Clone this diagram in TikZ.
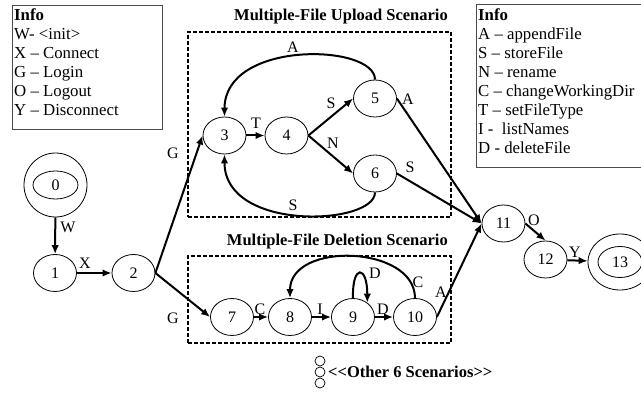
\documentclass[tikz,border=0pt]{standalone}
\usepackage{fontspec}
\setmainfont{Liberation Serif}
\usetikzlibrary{shapes.geometric,arrows.meta}
\begin{document}
\begin{tikzpicture}[x=1pt,y=-1pt,
  state/.style={ellipse,draw,line width=0.8pt,minimum width=43pt,minimum height=37pt,
    inner sep=0pt,font=\fontsize{16}{16}\selectfont},
  trans/.style={line width=2pt,-{Latex[length=9pt,width=7.5pt]}},
  lbl/.style={anchor=base,inner sep=0pt,font=\fontsize{16}{16}\selectfont},
  infoline/.style={anchor=base west,inner sep=0pt,font=\fontsize{16.8}{19}\selectfont},
  infobox/.style={draw=black!70,line width=1pt,rectangle,inner sep=0pt,anchor=north west},
  scenbox/.style={draw,line width=1.6pt,dash pattern=on 4pt off 2pt,rectangle,
    inner sep=0pt,anchor=north west},
  scentitle/.style={anchor=base east,inner sep=0pt,font=\bfseries\fontsize{16.5}{16.5}\selectfont},
  dot/.style={circle,draw,line width=0.7pt,minimum size=10pt,inner sep=0pt}
]
\useasboundingbox (0,0) rectangle (641,393);

% ---- legend boxes ----
\node[infobox,minimum width=150pt,minimum height=124pt] (legL) at (12,5) {};
\node[infoline,font=\bfseries\fontsize{16.8}{19}\selectfont] (legL0) at (14,20.5) {Info};
\node[infoline] (legL1) at (14,39.5) {W- <init>};
\node[infoline] (legL2) at (14,58.5) {X – Connect};
\node[infoline] (legL3) at (14,77.5) {G – Login};
\node[infoline] (legL4) at (14,96.5) {O – Logout};
\node[infoline] (legL5) at (14,115.5) {Y – Disconnect};

\node[infobox,minimum width=166pt,minimum height=163pt] (legR) at (476,4) {};
\node[infoline,font=\bfseries\fontsize{16.8}{19}\selectfont] (legR0) at (478,20.5) {Info};
\node[infoline] (legR1) at (478,39.5) {A – appendFile};
\node[infoline] (legR2) at (478,58.5) {S – storeFile};
\node[infoline] (legR3) at (478,77.5) {N – rename};
\node[infoline] (legR4) at (478,96.5) {C – changeWorkingDir};
\node[infoline] (legR5) at (478,115.5) {T – setFileType};
\node[infoline] (legR6) at (478,134.5) {I -\ \ listNames};
\node[infoline] (legR7) at (478,153.5) {D - deleteFile};

% ---- scenario frames ----
\node[scenbox,minimum width=263pt,minimum height=185pt] (upbox) at (187,31) {};
\node[scentitle] (uptitle) at (448,20.5) {Multiple-File Upload Scenario};
\node[scenbox,minimum width=263pt,minimum height=87pt] (delbox) at (187,255) {};
\node[scentitle] (deltitle) at (448,245.5) {Multiple-File Deletion Scenario};

% ---- states ----
\node[ellipse,draw,line width=0.8pt,minimum width=63pt,minimum height=64pt] (n0) at (55.5,185) {};
\node[state,minimum width=45pt,minimum height=28pt] (n0in) at (n0) {0};
\node[state] (n1) at (55,273) {1};
\node[state] (n2) at (133.5,273) {2};
\node[state] (n3) at (224.5,135.5) {3};
\node[state] (n4) at (286.5,135.5) {4};
\node[state] (n5) at (375,98.5) {5};
\node[state] (n6) at (375,173.5) {6};
\node[state] (n7) at (232,317) {7};
\node[state] (n8) at (290,317) {8};
\node[state] (n9) at (353,317) {9};
\node[state] (n10) at (415,317) {10};
\node[state] (n11) at (503.5,223.5) {11};
\node[state] (n12) at (545.5,259.5) {12};
\node[ellipse,draw,line width=0.8pt,minimum width=64pt,minimum height=56pt] (n13) at (620,262) {};
\node[state,minimum width=44pt,minimum height=31pt] (n13in) at (n13) {13};

% ---- transitions ----
\draw[trans] (n0) -- (n1);
\draw[trans] (n1) -- (n2);
\draw[trans] (n2.east) -- (n3.west);
\draw[trans] (n2.east) -- (n7.west);
\draw[trans] (n3) -- (n4);
\draw[trans] (n4.east) -- (n5.west);
\draw[trans] (n4.east) -- (n6.west);
\draw[trans] (n5.north) .. controls +(0,-36) and +(0,-77) .. (n3.north);
\draw[trans] (n6.south) .. controls +(0,33) and +(0,78) .. (n3.south);
\draw[trans] (n5.east) -- (n11.west);
\draw[trans] (n6.east) -- (n11.west);
\draw[trans] (n7) -- (n8);
\draw[trans] (n8) -- (n9);
\draw[trans] (n9) -- (n10);
\draw[trans] (n9.north) .. controls +(-1,-34) and +(0,-38) .. (n9.45);
\draw[trans] (n10.north) .. controls +(0,-53) and +(0,-57) .. (n8.north);
\draw[trans] (n10.east) -- (n11.west);
\draw[trans] (n11.east) -- (n12.north);
\draw[trans] (n12) -- (n13);

% ---- transition labels ----
\node[lbl] (lW) at (68,232.3) {W};
\node[lbl] (lX) at (85,268.3) {X};
\node[lbl] (lG1) at (173,158.3) {G};
\node[lbl] (lG2) at (173,323.3) {G};
\node[lbl] (lT) at (256,128.3) {T};
\node[lbl] (lS1) at (331,108.3) {S};
\node[lbl] (lN) at (333,148.3) {N};
\node[lbl] (lA1) at (293,52.3) {A};
\node[lbl] (lS2) at (293,210.3) {S};
\node[lbl] (lA2) at (408,104.3) {A};
\node[lbl] (lS3) at (410,172.3) {S};
\node[lbl] (lA3) at (441,297.3) {A};
\node[lbl] (lO) at (534,225.3) {O};
\node[lbl] (lY) at (575,257.3) {Y};
\node[lbl] (lC1) at (260,314.3) {C};
\node[lbl] (lI) at (320,314.3) {I};
\node[lbl] (lD1) at (383,314.3) {D};
\node[lbl] (lD2) at (375,278.3) {D};
\node[lbl] (lC2) at (418,287.3) {C};

% ---- remaining scenarios ----
\node[dot] (dot1) at (320,361) {};
\node[dot] (dot2) at (320,372) {};
\node[dot] (dot3) at (320,383) {};
\node[anchor=base west,inner sep=0pt,font=\bfseries\fontsize{16.5}{16.5}\selectfont] (others)
  at (328,377.5) {<{}<Other 6 Scenarios>{}>};
\end{tikzpicture}
\end{document}
